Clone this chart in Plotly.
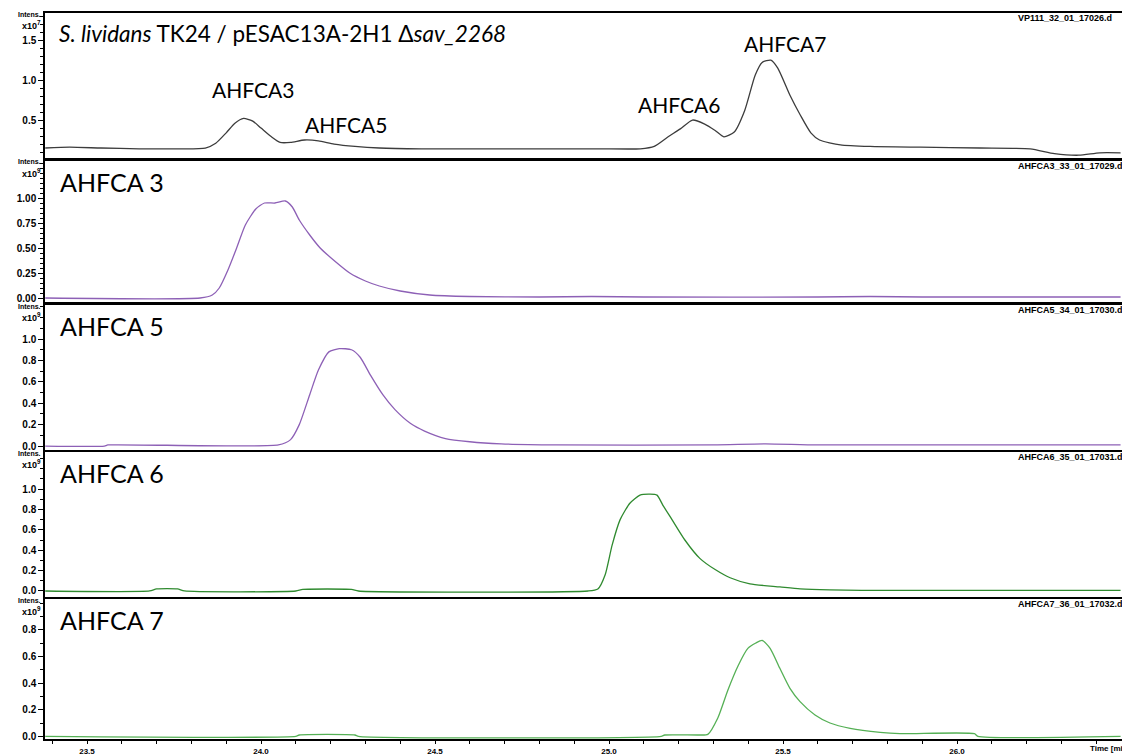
import plotly.graph_objects as go
from plotly.subplots import make_subplots

# ---- chromatogram data (retention time in min, intensity in panel units) ----
tic_time = [23.38, 23.45, 23.54, 23.65, 23.77, 23.84, 23.87, 23.90, 23.925, 23.95, 23.975, 24.00,
            24.03, 24.055, 24.085, 24.125, 24.165, 24.21, 24.27, 24.34, 24.46, 24.63, 24.80, 24.97,
            25.09, 25.13, 25.17, 25.205, 25.24, 25.275, 25.305, 25.33, 25.36, 25.39, 25.42, 25.44,
            25.465, 25.485, 25.52, 25.55, 25.58, 25.605, 25.665, 25.75, 25.895, 26.065, 26.21,
            26.28, 26.35, 26.41, 26.47]
tic_int = [0.15, 0.16, 0.15, 0.14, 0.14, 0.15, 0.21, 0.34, 0.46, 0.52, 0.49, 0.40,
           0.29, 0.22, 0.22, 0.25, 0.24, 0.20, 0.17, 0.15, 0.14, 0.14, 0.14, 0.14,
           0.14, 0.17, 0.29, 0.39, 0.50, 0.45, 0.37, 0.29, 0.35, 0.62, 1.06, 1.22,
           1.25, 1.15, 0.81, 0.56, 0.34, 0.25, 0.19, 0.17, 0.16, 0.15, 0.14,
           0.08, 0.06, 0.09, 0.09]

a3_time = [23.38, 23.825, 23.86, 23.88, 23.905, 23.93, 23.955, 23.985, 24.01, 24.04, 24.07, 24.09,
           24.11, 24.14, 24.17, 24.215, 24.255, 24.30, 24.34, 24.40, 24.485, 24.60, 24.80, 24.95,
           25.10, 25.60, 25.75, 25.90, 26.47]
a3_int = [0.0, 0.0, 0.03, 0.10, 0.28, 0.50, 0.73, 0.89, 0.95, 0.95, 0.97, 0.91,
          0.78, 0.63, 0.50, 0.36, 0.25, 0.17, 0.12, 0.07, 0.03, 0.015, 0.01, 0.015,
          0.01, 0.01, 0.015, 0.01, 0.01]

a5_time = [23.38, 23.55, 23.56, 24.05, 24.085, 24.11, 24.14, 24.165, 24.195, 24.225, 24.26, 24.285,
           24.315, 24.35, 24.385, 24.43, 24.47, 24.53, 24.60, 24.69, 24.85, 25.30, 25.45, 25.60, 26.47]
a5_int = [0.0, 0.0, 0.01, 0.01, 0.06, 0.20, 0.48, 0.71, 0.88, 0.91, 0.90, 0.83,
          0.66, 0.48, 0.34, 0.21, 0.14, 0.07, 0.04, 0.02, 0.01, 0.01, 0.02, 0.01, 0.01]

a6_time = [23.38, 23.68, 23.70, 23.76, 23.78, 24.10, 24.12, 24.26, 24.28, 24.94, 24.968, 24.989,
           25.009, 25.032, 25.06, 25.089, 25.118, 25.138, 25.155, 25.181, 25.218, 25.261, 25.305,
           25.348, 25.405, 25.491, 25.549, 25.635, 25.80, 26.47]
a6_int = [0.0, 0.0, 0.02, 0.02, 0.0, 0.0, 0.015, 0.015, 0.0, 0.0, 0.02, 0.16,
          0.45, 0.70, 0.86, 0.94, 0.95, 0.94, 0.84, 0.70, 0.50, 0.32, 0.21,
          0.13, 0.07, 0.04, 0.02, 0.01, 0.005, 0.005]

a7_time = [23.38, 24.10, 24.11, 24.27, 24.28, 25.15, 25.16, 25.26, 25.284, 25.313, 25.342, 25.371,
           25.399, 25.422, 25.44, 25.463, 25.491, 25.52, 25.549, 25.592, 25.635, 25.693, 25.779,
           25.836, 26.05, 26.06, 26.47]
a7_int = [0.0, 0.0, 0.01, 0.01, 0.0, 0.0, 0.01, 0.01, 0.015, 0.14, 0.35, 0.53,
          0.66, 0.70, 0.72, 0.66, 0.51, 0.36, 0.26, 0.16, 0.10, 0.06, 0.03,
          0.02, 0.02, 0.0, 0.0]

x_ticks = [23.5, 24.0, 24.5, 25.0, 25.5, 26.0]
x_ticktext = ["23.5", "24.0", "24.5", "25.0", "25.5", "26.0"]

panel_names = ["VP111_32_01_17026.d", "AHFCA3_33_01_17029.d", "AHFCA5_34_01_17030.d",
               "AHFCA6_35_01_17031.d", "AHFCA7_36_01_17032.d"]
panel_labels = [None, "AHFCA 3", "AHFCA 5", "AHFCA 6", "AHFCA 7"]
exponents = ["7", "9", "9", "9", "9"]
y_ticks = [
    [0.5, 1.0, 1.5],
    [0.0, 0.25, 0.5, 0.75, 1.0],
    [0.0, 0.2, 0.4, 0.6, 0.8, 1.0],
    [0.0, 0.2, 0.4, 0.6, 0.8, 1.0],
    [0.0, 0.2, 0.4, 0.6, 0.8],
]
y_formats = [".1f", ".2f", ".1f", ".1f", ".1f"]
y_minor = [0.1, 0.05, 0.1, 0.1, 0.1]
y_ranges = [[0.025, 1.84], [-0.04, 1.37], [-0.037, 1.318], [-0.059, 1.363], [-0.02, 1.03]]

peak_labels = ["AHFCA3", "AHFCA5", "AHFCA6", "AHFCA7"]
peak_label_t = [23.977, 24.245, 25.20, 25.505]
peak_label_v = [0.88, 0.44, 0.70, 1.46]

# ---- figure geometry (pixels) ----
W, H = 1122, 755
LEFT = 45
panel_px = [(13, 158), (161, 302), (305, 450), (452, 597), (599, 739)]

series = [
    (tic_time, tic_int, "#3c3c3c"),
    (a3_time, a3_int, "#8d60b6"),
    (a5_time, a5_int, "#8d60b6"),
    (a6_time, a6_int, "#2f8a2f"),
    (a7_time, a7_int, "#55b055"),
]

fig = make_subplots(rows=5, cols=1, shared_xaxes=True)
for i, (t, v, c) in enumerate(series, start=1):
    fig.add_trace(go.Scatter(x=t, y=v, mode="lines",
                             line=dict(color=c, width=1.3, shape="spline", smoothing=0.6),
                             showlegend=False), row=i, col=1)

tick_font = dict(family="Liberation Sans Narrow, Liberation Sans, Arial", size=10,
                 color="black", weight="bold")
x_range = [23.5 - (87 - LEFT) / 348, 26.0 + (W - 957) / 348]

for i in range(5):
    top, bot = panel_px[i]
    ydom = [1 - bot / H, 1 - top / H]
    last = i == 4
    fig.update_yaxes(row=i + 1, col=1, domain=ydom, range=y_ranges[i], automargin=False,
                     tickmode="array", tickvals=y_ticks[i], tickformat=y_formats[i],
                     ticks="outside", ticklen=5, tickwidth=1, tickcolor="black",
                     minor=dict(dtick=y_minor[i], tick0=0, ticks="outside", ticklen=3,
                                tickcolor="black", showgrid=False),
                     tickfont=tick_font, showline=True, linecolor="black", linewidth=1.5,
                     showgrid=False, zeroline=False, fixedrange=True)
    fig.update_xaxes(row=i + 1, col=1, domain=[LEFT / W, 1], range=x_range, automargin=False,
                     showline=True, mirror=True, linecolor="black", linewidth=2,
                     showgrid=False, zeroline=False,
                     showticklabels=last,
                     ticks="outside" if last else "",
                     tickmode="array", tickvals=x_ticks, ticktext=x_ticktext,
                     ticklen=3, tickwidth=1, tickcolor="black", tickfont=dict(tick_font, size=8),
                     ticklabelstandoff=0,
                     minor=dict(dtick=0.1, tick0=23.5, ticks="outside" if last else "",
                                ticklen=3, tickcolor="black", showgrid=False))

    # "Intens." and exponent labels on the left
    fig.add_annotation(xref="paper", yref="paper", x=43 / W, y=1 - (top + 1) / H,
                       xanchor="right", yanchor="middle", showarrow=False,
                       text="Intens.", font=dict(tick_font, size=7))
    fig.add_annotation(xref="paper", yref="paper", x=43 / W, y=1 - (top + 12) / H,
                       xanchor="right", yanchor="middle", showarrow=False,
                       text="x10<sup>" + exponents[i] + "</sup>", font=dict(tick_font, size=9))
    # data file name, top-right
    fig.add_annotation(xref="paper", yref="paper", x=1016 / W, y=1 - (top + 5) / H,
                       xanchor="left", yanchor="middle", showarrow=False,
                       text=panel_names[i], font=dict(tick_font, size=9))
    if panel_labels[i]:
        fig.add_annotation(xref="paper", yref="paper", x=58 / W, y=1 - (top + 21) / H,
                           xanchor="left", yanchor="middle", showarrow=False,
                           text=panel_labels[i],
                           font=dict(family="Lato, Open Sans", size=25, color="black"))

# title of the top trace
fig.add_annotation(xref="paper", yref="paper", x=57 / W, y=1 - 34 / H,
                   xanchor="left", yanchor="middle", showarrow=False,
                   text="<i>S. lividans</i> TK24 / pESAC13A-2H1 Δ<i>sav_2268</i>",
                   font=dict(family="Lato, Open Sans", size=22.5, color="black"))

# peak labels in the top trace
for name, t, v in zip(peak_labels, peak_label_t, peak_label_v):
    fig.add_annotation(x=t, y=v, xref="x", yref="y", showarrow=False,
                       xanchor="center", yanchor="middle", text=name,
                       font=dict(family="Lato, Open Sans", size=21, color="black"))

fig.add_annotation(xref="paper", yref="paper", x=1088 / W, y=1 - 748 / H,
                   xanchor="left", yanchor="middle", showarrow=False,
                   text="Time [min]", font=dict(tick_font, size=8))

fig.update_layout(width=W, height=H, margin=dict(l=0, r=0, t=0, b=0),
                  plot_bgcolor="white", paper_bgcolor="white", showlegend=False)

fig.write_html("out.html")
